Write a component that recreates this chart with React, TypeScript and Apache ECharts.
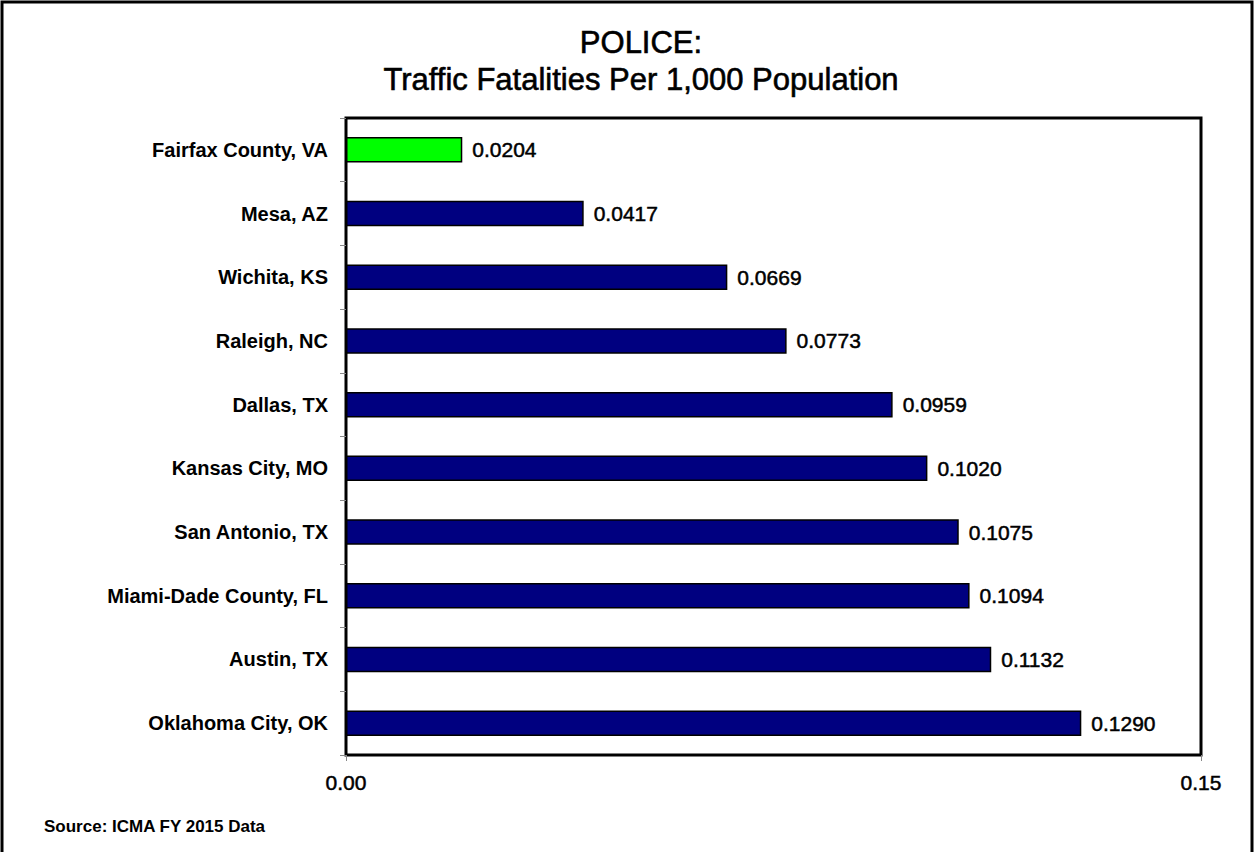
import React, { useEffect, useRef } from "react";
import * as echarts from "echarts";

const categories = [
  "Fairfax County, VA",
  "Mesa, AZ",
  "Wichita, KS",
  "Raleigh, NC",
  "Dallas, TX",
  "Kansas City, MO",
  "San Antonio, TX",
  "Miami-Dade County, FL",
  "Austin, TX",
  "Oklahoma City, OK",
];
const values = [0.0204, 0.0417, 0.0669, 0.0773, 0.0959, 0.102, 0.1075, 0.1094, 0.1132, 0.129];
const highlight = "Fairfax County, VA";
const xTicks = [0, 0.15];
const titleLines = ["POLICE:", "Traffic Fatalities Per 1,000 Population"];
const sourceText = "Source: ICMA FY 2015 Data";

const FONT = "'Liberation Sans', Arial, sans-serif";

export default function App() {
  const ref = useRef<HTMLDivElement>(null);
  useEffect(() => {
    if (!ref.current) return;
    const chart = echarts.init(ref.current, null, { renderer: "svg" });
    chart.setOption({
      animation: false,
      backgroundColor: "#ffffff",
      textStyle: { fontFamily: FONT },
      grid: {
        left: 346,
        right: 53,
        top: 118,
        bottom: 97,
        show: true,
        borderColor: "#000",
        borderWidth: 3,
        containLabel: false,
      },
      xAxis: {
        type: "value",
        min: xTicks[0],
        max: xTicks[1],
        interval: xTicks[1] - xTicks[0],
        axisLine: { show: false },
        axisTick: { show: true, length: 6, lineStyle: { color: "#888", width: 1 } },
        splitLine: { show: false },
        axisLabel: {
          color: "#000",
          fontSize: 21,
          fontFamily: FONT,
          margin: 17,
          textBorderColor: "#000",
          textBorderWidth: 0.5,
          formatter: (v: number) => v.toFixed(2),
        },
      },
      yAxis: {
        type: "category",
        inverse: true,
        data: categories,
        axisLine: { show: false },
        axisTick: { show: true, length: 6, lineStyle: { color: "#888", width: 1 } },
        axisLabel: {
          color: "#000",
          fontSize: 20,
          fontWeight: "bold",
          fontFamily: FONT,
          margin: 18,
        },
      },
      series: [
        {
          type: "bar",
          barWidth: "40%",
          data: values.map((v, i) => ({
            value: v,
            itemStyle: {
              color: categories[i] === highlight ? "#00ff00" : "#000080",
              borderColor: "#000",
              borderWidth: 1.5,
            },
          })),
          label: {
            show: true,
            position: "right",
            distance: 10,
            color: "#000",
            fontSize: 21,
            fontFamily: FONT,
            textBorderColor: "#000",
            textBorderWidth: 0.5,
            formatter: (p: any) => Number(p.value).toFixed(4),
          },
        },
      ],
      graphic: [
        {
          type: "rect",
          shape: { x: 2, y: 2, width: 1250, height: 870 },
          style: { fill: "none", stroke: "#000", lineWidth: 3 },
          silent: true,
        },
        {
          type: "text",
          x: 641,
          y: 42,
          style: {
            text: titleLines[0],
            fill: "#000",
            stroke: "#000",
            lineWidth: 0.6,
            font: `31px ${FONT}`,
            textAlign: "center",
            textVerticalAlign: "middle",
          },
        },
        {
          type: "text",
          x: 641,
          y: 79,
          style: {
            text: titleLines[1],
            fill: "#000",
            stroke: "#000",
            lineWidth: 0.6,
            font: `31px ${FONT}`,
            textAlign: "center",
            textVerticalAlign: "middle",
          },
        },
        {
          type: "text",
          x: 44,
          y: 826,
          style: {
            text: sourceText,
            fill: "#000",
            font: `bold 17px ${FONT}`,
            textAlign: "left",
            textVerticalAlign: "middle",
          },
        },
      ],
    });
    return () => chart.dispose();
  }, []);
  return (
    <div
      ref={ref}
      style={{ position: "fixed", left: 0, top: 0, width: 1254, height: 852 }}
    />
  );
}
